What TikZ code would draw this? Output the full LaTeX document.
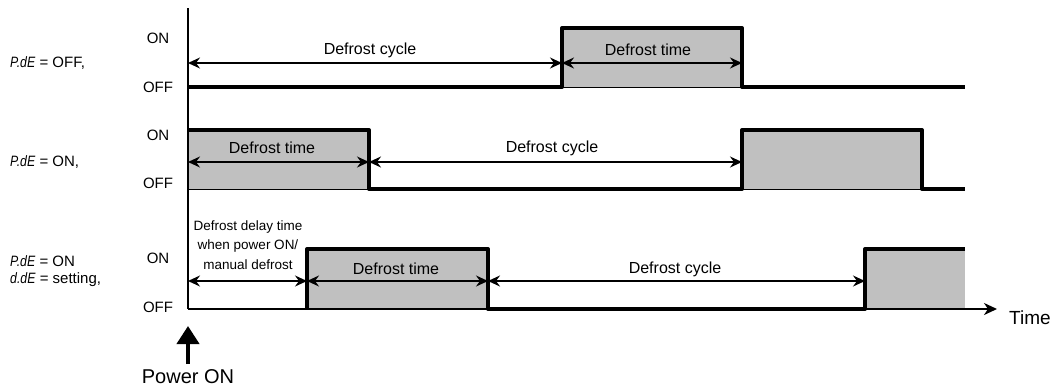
\documentclass[tikz,border=0pt]{standalone}
\usepackage{fontspec}
\setmainfont{Liberation Sans}
\usetikzlibrary{arrows.meta}
\definecolor{pulsegray}{HTML}{C0C0C0}
\newcommand{\segtext}[1]{\scalebox{0.82}[1]{\textit{#1}}}
\begin{document}
\begin{tikzpicture}[x=1pt,y=-1pt,
  sig/.style={line width=4pt, line join=round, line cap=butt},
  pulsebox/.style={fill=pulsegray, draw=black, line width=0.8pt},
  axisline/.style={line width=2pt},
  dimarrow/.style={line width=1.5pt, {Stealth[length=12pt,width=11pt,inset=4pt]}-{Stealth[length=12pt,width=11pt,inset=4pt]}},
  lbl/.style={font=\fontsize{16}{19}\selectfont, inner sep=0pt},
  lvl/.style={font=\fontsize{15}{18}\selectfont, inner sep=0pt},
  param/.style={font=\fontsize{15}{17.5}\selectfont, inner sep=0pt, anchor=west, align=left},
]
\useasboundingbox (0,0) rectangle (1059,388);

% ---- gray pulses
\draw[pulsebox] (562,28) rectangle (742,87);
\draw[pulsebox] (188,130) rectangle (369,189);
\draw[pulsebox] (742,130) rectangle (922,189);
\draw[pulsebox] (307,249) rectangle (488,309);
\fill[pulsegray] (865,249) rectangle (965,309);

% ---- axes
\coordinate (ytop) at (188,8);
\coordinate (orig) at (188,309);
\coordinate (tend) at (997,309);
\draw[axisline] (ytop) -- (orig);
\draw[axisline, -{Stealth[length=13pt,width=12pt,inset=4pt]}] (orig) -- (tend);

% ---- signals
\draw[sig] (188,87) -- (562,87) -- (562,28) -- (742,28) -- (742,87) -- (965,87);
\draw[sig] (188,130) -- (369,130) -- (369,189) -- (742,189) -- (742,130) -- (922,130) -- (922,189) -- (965,189);
\draw[sig] (307,309) -- (307,249) -- (488,249) -- (488,309) -- (865,309) -- (865,249) -- (965,249);

% ---- dimension arrows
\coordinate (a1) at (188,63); \coordinate (a2) at (562,63); \coordinate (a3) at (742,63);
\coordinate (b1) at (188,162); \coordinate (b2) at (369,162); \coordinate (b3) at (742,162);
\coordinate (c1) at (188,281); \coordinate (c2) at (307,281); \coordinate (c3) at (488,281); \coordinate (c4) at (865,281);
\draw[dimarrow] (a1) -- (a2);
\draw[dimarrow] (a2) -- (a3);
\draw[dimarrow] (b1) -- (b2);
\draw[dimarrow] (b2) -- (b3);
\draw[dimarrow] (c1) -- (c2);
\draw[dimarrow] (c2) -- (c3);
\draw[dimarrow] (c3) -- (c4);

% ---- interval labels
\node[lbl] (t1) at (370,50) {Defrost cycle};
\node[lbl] (t2) at (648,50) {Defrost time};
\node[lbl] (t3) at (272,148) {Defrost time};
\node[lbl] (t4) at (552,148) {Defrost cycle};
\node[lbl] (t5) at (396,269) {Defrost time};
\node[lbl] (t6) at (675,269) {Defrost cycle};
\node[align=center, inner sep=0pt, font=\fontsize{13.5}{19.5}\selectfont] (t7) at (248,245) {Defrost delay time\\when power ON/\\manual defrost};

% ---- level labels
\node[lvl] (on1) at (158,38) {ON};
\node[lvl] (off1) at (158,87) {OFF};
\node[lvl] (on2) at (158,135) {ON};
\node[lvl] (off2) at (158,183) {OFF};
\node[lvl] (on3) at (158,258) {ON};
\node[lvl] (off3) at (158,307) {OFF};

% ---- parameter labels
\node[param] (p1) at (10,63) {\segtext{P.dE} = OFF,};
\node[param] (p2) at (10,162) {\segtext{P.dE} = ON,};
\node[param] (p3) at (10,271) {\segtext{P.dE} = ON\\\segtext{d.dE} = setting,};

% ---- power on & time
\coordinate (pw1) at (188,364);
\coordinate (pw2) at (188,326);
\draw[line width=4pt, -{Triangle[length=18pt,width=22pt]}] (pw1) -- (pw2);
\node[inner sep=0pt, font=\fontsize{20}{24}\selectfont] (pwr) at (188,377) {Power ON};
\node[inner sep=0pt, anchor=west, font=\fontsize{19}{22}\selectfont] (time) at (1009,318) {Time};
\end{tikzpicture}
\end{document}
